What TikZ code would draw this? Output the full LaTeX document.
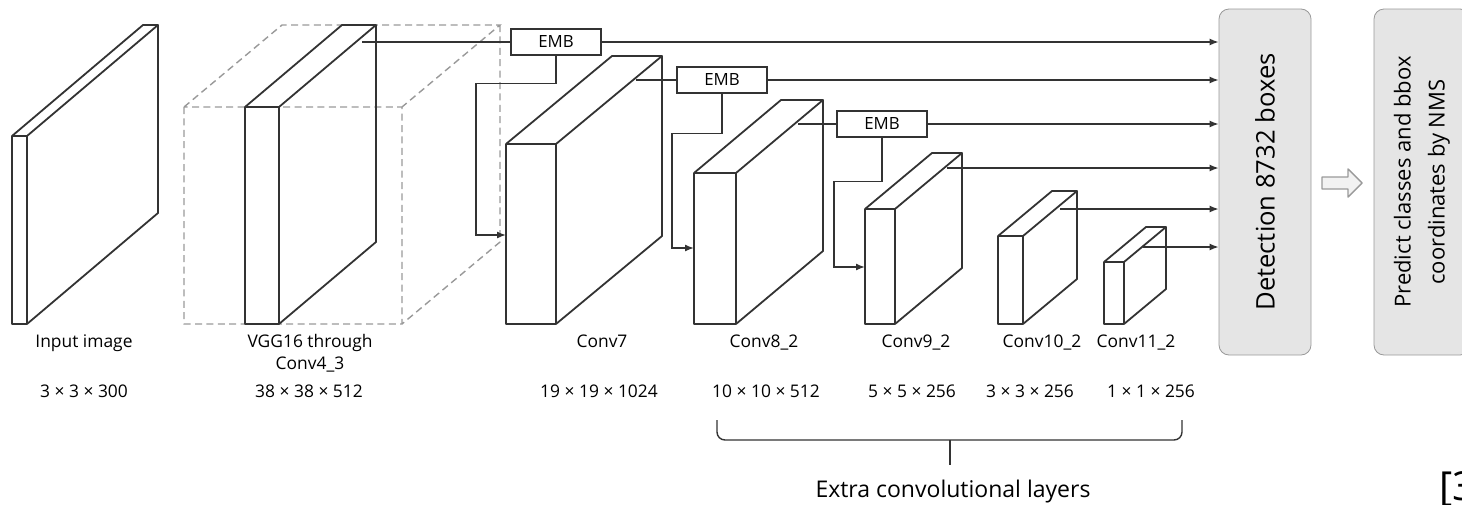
\documentclass[tikz,border=0pt]{standalone}
\usepackage{fontspec}
\setmainfont{Open Sans}
\usetikzlibrary{arrows.meta,positioning,calc}

% cuboid: front x1 x2, front y1 y2, depth dx dy
\newcommand{\convslab}[7][slab]{%
  \draw[#1] (#2,#4) rectangle (#3,#5)
    (#2,#4) -- ++(#6,#7) -- ({#3+(#6)},{#4+(#7)}) -- (#3,#4)
    ({#3+(#6)},{#4+(#7)}) -- ({#3+(#6)},{#5+(#7)}) -- (#3,#5);}

\begin{document}
\begin{tikzpicture}[
  x=0.5pt, y=-0.5pt,
  slab/.style={draw=black!80, line width=0.9pt, line join=round},
  ghost/.style={draw=black!40, line width=0.7pt, dash pattern=on 3.5pt off 2.2pt},
  emb/.style={rectangle, draw=black!80, line width=0.7pt, minimum width=45pt,
              minimum height=13pt, inner sep=0pt, font=\fontsize{8.4}{10}\selectfont},
  stage/.style={rectangle, rounded corners=5pt, draw=black!40, fill=black!10,
                rotate=90, minimum width=173pt, inner sep=0pt, align=center,
                font=\fontsize{11}{17}\selectfont},
  lbl/.style={inner sep=0pt, align=center, font=\fontsize{8.7}{11}\selectfont},
  link/.style={draw=black!80, line width=0.7pt},
  arrow/.style={link, -{Latex[length=4.5pt,width=3.5pt]}}
]
\useasboundingbox (0,0) rectangle (1462,504);

% feature maps
\convslab{12}{27}{136}{324}{131}{-111}
\convslab[ghost]{184}{402}{107}{324}{98}{-82}
\convslab{245}{279}{107}{324}{97}{-82}
\convslab{506}{556}{144}{324}{106}{-88}
\convslab{694}{736}{173}{324}{87}{-73}
\convslab{865}{895}{209}{324}{67}{-56}
\convslab{998}{1023}{236}{324}{54}{-45}
\convslab{1104}{1124}{262}{324}{42}{-35}

\coordinate (vgg-out) at (362,42);
\coordinate (c7-out) at (636,80);
\coordinate (c8-out) at (798,124);
\coordinate (c9-out) at (947,168);
\coordinate (c10-out) at (1060,209);
\coordinate (c11-out) at (1143,247);
\coordinate (c7-in) at (506,235);
\coordinate (c8-in) at (694,248);
\coordinate (c9-in) at (865,267);

\node[emb] (emb1) at (556,42) {EMB};
\node[emb] (emb2) at (722,80) {EMB};
\node[emb] (emb3) at (882,124) {EMB};

\node[stage, minimum height=46pt, font=\fontsize{12.8}{17}\selectfont] (det)
  at (1265,182) {Detection 8732 boxes};
\node[stage, minimum height=48pt] (pred) at (1422,182)
  {Predict classes and bbox\\coordinates by NMS};

% layer names and sizes
\node[lbl, anchor=north] (in-name) at (84,334) {Input image};
\node[lbl, anchor=north] (vgg-name) at (310,334) {VGG16 through\\Conv4\_3};
\node[lbl, anchor=north] (c7-name) at (602,334) {Conv7};
\node[lbl, anchor=north] (c8-name) at (764,334) {Conv8\_2};
\node[lbl, anchor=north] (c9-name) at (916,334) {Conv9\_2};
\node[lbl, anchor=north] (c10-name) at (1042,334) {Conv10\_2};
\node[lbl, anchor=north] (c11-name) at (1136,334) {Conv11\_2};

\node[lbl, anchor=base] (in-size) at (84,397) {3 × 3 × 300};
\node[lbl, anchor=base] (vgg-size) at (309,397) {38 × 38 × 512};
\node[lbl, anchor=base] (c7-size) at (599,397) {19 × 19 × 1024};
\node[lbl, anchor=base] (c8-size) at (766,397) {10 × 10 × 512};
\node[lbl, anchor=base] (c9-size) at (912,397) {5 × 5 × 256};
\node[lbl, anchor=base] (c10-size) at (1030,397) {3 × 3 × 256};
\node[lbl, anchor=base] (c11-size) at (1151,397) {1 × 1 × 256};

\node[inner sep=0pt, anchor=base, font=\fontsize{11.5}{14}\selectfont] (extra)
  at (953,497) {Extra convolutional layers};
\node[inner sep=0pt, anchor=base west, font=\fontsize{20}{24}\selectfont] (cite)
  at (1439,500) {[3};

% EMB links
\draw[link] (vgg-out) -- (emb1);
\draw[link] (c7-out) -- (emb2);
\draw[link] (c8-out) -- (emb3);
\draw[arrow] (emb1.south) -- ++(0,28) -| ($(c7-in)+(-30,0)$) -- (c7-in);
\draw[arrow] (emb2.south) -- ++(0,40) -| ($(c8-in)+(-22,0)$) -- (c8-in);
\draw[arrow] (emb3.south) -- ++(0,44) -| ($(c9-in)+(-31,0)$) -- (c9-in);

% to detection
\draw[arrow] (emb1.east) -- (emb1.east -| det.north);
\draw[arrow] (emb2.east) -- (emb2.east -| det.north);
\draw[arrow] (emb3.east) -- (emb3.east -| det.north);
\draw[arrow] (c9-out) -- (c9-out -| det.north);
\draw[arrow] (c10-out) -- (c10-out -| det.north);
\draw[arrow] (c11-out) -- (c11-out -| det.north);

% hollow arrow
\draw[draw=black!40, fill=black!5, line width=0.7pt, line join=round]
  (1322,177) -- (1348,177) -- (1348,169) -- (1362,183) -- (1348,197)
  -- (1348,189) -- (1322,189) -- cycle;

% brace
\draw[link, rounded corners=4pt] (717,420) |- (950,440) -| (1182,420);
\draw[link] (950,440) -- (950,465);

\end{tikzpicture}
\end{document}
